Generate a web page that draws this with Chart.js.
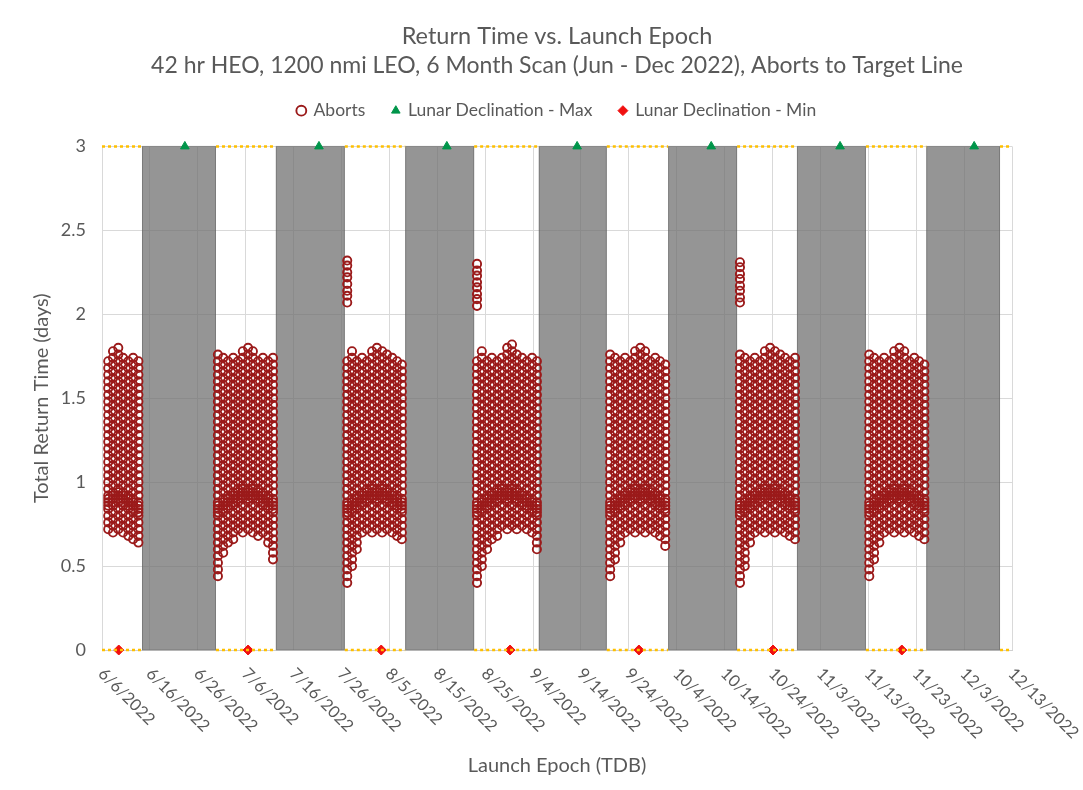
<!DOCTYPE html>
<html>
<head>
<meta charset="utf-8">
<title>Return Time vs. Launch Epoch</title>
<script src="https://cdn.jsdelivr.net/npm/chart.js@4.4.1/dist/chart.umd.min.js"></script>
<style>
  html, body { margin: 0; padding: 0; background: #fff; }
</style>
</head>
<body>
<canvas id="returnChart" width="1083" height="790"></canvas>
<script>
// x values are launch epochs in days after 6/6/2022 (axis runs 6/6/2022 - 12/13/2022)
const tickLabels = ["6/6/2022", "6/16/2022", "6/26/2022", "7/6/2022", "7/16/2022", "7/26/2022",
  "8/5/2022", "8/15/2022", "8/25/2022", "9/4/2022", "9/14/2022", "9/24/2022", "10/4/2022",
  "10/14/2022", "10/24/2022", "11/3/2022", "11/13/2022", "11/23/2022", "12/3/2022", "12/13/2022"];
const yTickLabels = ["0", "0.5", "1", "1.5", "2", "2.5", "3"];

// grey shaded (no launch) periods
const bandStart = [8.35, 36.3, 63.3, 91.2, 118.2, 145.1, 172.1];
const bandEnd = [23.8, 50.7, 77.7, 105.4, 132.6, 159.5, 187.5];

// lunar declination extremes
const decMaxDays = [17.3, 45.3, 72.0, 99.2, 127.2, 154.1, 182.1];
const decMinDays = [3.5, 30.5, 58.3, 85.2, 112.1, 140.1, 167.0];

// abort cases: one column per launch day
const abortDays = [
  1.3, 2.3, 3.4, 4.4, 5.5, 6.5, 7.6,
  24.2, 25.3, 26.3, 27.4, 28.4, 29.4, 30.5, 31.5, 32.6, 33.6, 34.7, 35.7,
  51.2, 52.2, 53.2, 54.3, 55.3, 56.4, 57.4, 58.5, 59.5, 60.6, 61.6, 62.6,
  78.3, 79.3, 80.4, 81.4, 82.5, 83.5, 84.6, 85.6, 86.6, 87.7, 88.7, 89.8, 90.8,
  106.1, 107.1, 108.2, 109.2, 110.3, 111.3, 112.4, 113.4, 114.5, 115.5, 116.5, 117.6,
  133.2, 134.2, 135.3, 136.3, 137.4, 138.4, 139.5, 140.5, 141.6, 142.6, 143.6, 144.7,
  160.2, 161.2, 162.3, 163.3, 164.4, 165.4, 166.5, 167.5, 168.6, 169.6, 170.6, 171.7
];

// total return times per column, in hundredths of a day
const abortTimes = [
  // Jun
  [72,76,80,84,88,92,96,100,104,108,112,116,120,124,128,132,136,140,144,148,152,156,160,164,168,172,86,90],
  [70,74,78,82,86,90,94,98,102,106,110,114,118,122,126,130,134,138,142,146,150,154,158,162,166,170,174,178,88,92],
  [72,76,80,84,88,92,96,100,104,108,112,116,120,124,128,132,136,140,144,148,152,156,160,164,168,172,176,180,90,94],
  [70,74,78,82,86,90,94,98,102,106,110,114,118,122,126,130,134,138,142,146,150,154,158,162,166,170,174,88,92],
  [68,72,76,80,84,88,92,96,100,104,108,112,116,120,124,128,132,136,140,144,148,152,156,160,164,168,172,86,90],
  [66,70,74,78,82,86,90,94,98,102,106,110,114,118,122,126,130,134,138,142,146,150,154,158,162,166,170,174,84,88],
  [64,68,72,76,80,84,88,92,96,100,104,108,112,116,120,124,128,132,136,140,144,148,152,156,160,164,168,172,82,86],
  // Jun - Jul
  [44,48,52,56,60,64,68,72,76,80,84,88,92,96,100,104,108,112,116,120,124,128,132,136,140,144,148,152,156,160,164,168,172,176,82,86],
  [58,62,66,70,74,78,82,86,90,94,98,102,106,110,114,118,122,126,130,134,138,142,146,150,154,158,162,166,170,174,84,88],
  [64,68,72,76,80,84,88,92,96,100,104,108,112,116,120,124,128,132,136,140,144,148,152,156,160,164,168,172,86,90],
  [66,70,74,78,82,86,90,94,98,102,106,110,114,118,122,126,130,134,138,142,146,150,154,158,162,166,170,174,88,92],
  [72,76,80,84,88,92,96,100,104,108,112,116,120,124,128,132,136,140,144,148,152,156,160,164,168,172,90,94],
  [70,74,78,82,86,90,94,98,102,106,110,114,118,122,126,130,134,138,142,146,150,154,158,162,166,170,174,178,92,96],
  [72,76,80,84,88,92,96,100,104,108,112,116,120,124,128,132,136,140,144,148,152,156,160,164,168,172,176,180,90,94],
  [70,74,78,82,86,90,94,98,102,106,110,114,118,122,126,130,134,138,142,146,150,154,158,162,166,170,174,178,92,96],
  [68,72,76,80,84,88,92,96,100,104,108,112,116,120,124,128,132,136,140,144,148,152,156,160,164,168,172,90,94],
  [70,74,78,82,86,90,94,98,102,106,110,114,118,122,126,130,134,138,142,146,150,154,158,162,166,170,174,88,92],
  [64,68,72,76,80,84,88,92,96,100,104,108,112,116,120,124,128,132,136,140,144,148,152,156,160,164,168,172,86,90],
  [54,58,62,66,70,74,78,82,86,90,94,98,102,106,110,114,118,122,126,130,134,138,142,146,150,154,158,162,166,170,174,84,88],
  // Jul - Aug
  [40,44,48,52,56,60,64,68,72,76,80,84,88,92,96,100,104,108,112,116,120,124,128,132,136,140,144,148,152,156,160,164,168,172,82,86,207,211,214,218,222,225,229,232],
  [50,54,58,62,66,70,74,78,82,86,90,94,98,102,106,110,114,118,122,126,130,134,138,142,146,150,154,158,162,166,170,174,178,84,88],
  [60,64,68,72,76,80,84,88,92,96,100,104,108,112,116,120,124,128,132,136,140,144,148,152,156,160,164,168,172,86,90],
  [70,74,78,82,86,90,94,98,102,106,110,114,118,122,126,130,134,138,142,146,150,154,158,162,166,170,174,88,92],
  [72,76,80,84,88,92,96,100,104,108,112,116,120,124,128,132,136,140,144,148,152,156,160,164,168,172,90,94],
  [70,74,78,82,86,90,94,98,102,106,110,114,118,122,126,130,134,138,142,146,150,154,158,162,166,170,174,178,92,96],
  [72,76,80,84,88,92,96,100,104,108,112,116,120,124,128,132,136,140,144,148,152,156,160,164,168,172,176,180,90,94],
  [70,74,78,82,86,90,94,98,102,106,110,114,118,122,126,130,134,138,142,146,150,154,158,162,166,170,174,178,92,96],
  [72,76,80,84,88,92,96,100,104,108,112,116,120,124,128,132,136,140,144,148,152,156,160,164,168,172,176,90,94],
  [70,74,78,82,86,90,94,98,102,106,110,114,118,122,126,130,134,138,142,146,150,154,158,162,166,170,174,88,92],
  [68,72,76,80,84,88,92,96,100,104,108,112,116,120,124,128,132,136,140,144,148,152,156,160,164,168,172,86,90],
  [66,70,74,78,82,86,90,94,98,102,106,110,114,118,122,126,130,134,138,142,146,150,154,158,162,166,170,84,88],
  // Aug - Sep
  [40,44,48,52,56,60,64,68,72,76,80,84,88,92,96,100,104,108,112,116,120,124,128,132,136,140,144,148,152,156,160,164,168,172,82,86,205,209,212,216,219,223,226,230],
  [50,54,58,62,66,70,74,78,82,86,90,94,98,102,106,110,114,118,122,126,130,134,138,142,146,150,154,158,162,166,170,174,178,84,88],
  [60,64,68,72,76,80,84,88,92,96,100,104,108,112,116,120,124,128,132,136,140,144,148,152,156,160,164,168,172,86,90],
  [66,70,74,78,82,86,90,94,98,102,106,110,114,118,122,126,130,134,138,142,146,150,154,158,162,166,170,174,88,92],
  [68,72,76,80,84,88,92,96,100,104,108,112,116,120,124,128,132,136,140,144,148,152,156,160,164,168,172,90,94],
  [74,78,82,86,90,94,98,102,106,110,114,118,122,126,130,134,138,142,146,150,154,158,162,166,170,174,92,96],
  [72,76,80,84,88,92,96,100,104,108,112,116,120,124,128,132,136,140,144,148,152,156,160,164,168,172,176,180,90,94],
  [74,78,82,86,90,94,98,102,106,110,114,118,122,126,130,134,138,142,146,150,154,158,162,166,170,174,178,182,92,96],
  [72,76,80,84,88,92,96,100,104,108,112,116,120,124,128,132,136,140,144,148,152,156,160,164,168,172,176,90,94],
  [74,78,82,86,90,94,98,102,106,110,114,118,122,126,130,134,138,142,146,150,154,158,162,166,170,174,88,92],
  [72,76,80,84,88,92,96,100,104,108,112,116,120,124,128,132,136,140,144,148,152,156,160,164,168,172,86,90],
  [70,74,78,82,86,90,94,98,102,106,110,114,118,122,126,130,134,138,142,146,150,154,158,162,166,170,174,84,88],
  [60,64,68,72,76,80,84,88,92,96,100,104,108,112,116,120,124,128,132,136,140,144,148,152,156,160,164,168,172,82,86],
  // Sep - Oct
  [44,48,52,56,60,64,68,72,76,80,84,88,92,96,100,104,108,112,116,120,124,128,132,136,140,144,148,152,156,160,164,168,172,176,82,86],
  [54,58,62,66,70,74,78,82,86,90,94,98,102,106,110,114,118,122,126,130,134,138,142,146,150,154,158,162,166,170,174,84,88],
  [64,68,72,76,80,84,88,92,96,100,104,108,112,116,120,124,128,132,136,140,144,148,152,156,160,164,168,172,86,90],
  [70,74,78,82,86,90,94,98,102,106,110,114,118,122,126,130,134,138,142,146,150,154,158,162,166,170,174,88,92],
  [72,76,80,84,88,92,96,100,104,108,112,116,120,124,128,132,136,140,144,148,152,156,160,164,168,172,90,94],
  [70,74,78,82,86,90,94,98,102,106,110,114,118,122,126,130,134,138,142,146,150,154,158,162,166,170,174,178,92,96],
  [72,76,80,84,88,92,96,100,104,108,112,116,120,124,128,132,136,140,144,148,152,156,160,164,168,172,176,180,90,94],
  [70,74,78,82,86,90,94,98,102,106,110,114,118,122,126,130,134,138,142,146,150,154,158,162,166,170,174,178,92,96],
  [72,76,80,84,88,92,96,100,104,108,112,116,120,124,128,132,136,140,144,148,152,156,160,164,168,172,90,94],
  [70,74,78,82,86,90,94,98,102,106,110,114,118,122,126,130,134,138,142,146,150,154,158,162,166,170,174,88,92],
  [68,72,76,80,84,88,92,96,100,104,108,112,116,120,124,128,132,136,140,144,148,152,156,160,164,168,172,86,90],
  [62,66,70,74,78,82,86,90,94,98,102,106,110,114,118,122,126,130,134,138,142,146,150,154,158,162,166,170,84,88],
  // Oct - Oct
  [40,44,48,52,56,60,64,68,72,76,80,84,88,92,96,100,104,108,112,116,120,124,128,132,136,140,144,148,152,156,160,164,168,172,176,82,86,207,210,214,217,221,224,228,231],
  [50,54,58,62,66,70,74,78,82,86,90,94,98,102,106,110,114,118,122,126,130,134,138,142,146,150,154,158,162,166,170,174,84,88],
  [64,68,72,76,80,84,88,92,96,100,104,108,112,116,120,124,128,132,136,140,144,148,152,156,160,164,168,172,86,90],
  [70,74,78,82,86,90,94,98,102,106,110,114,118,122,126,130,134,138,142,146,150,154,158,162,166,170,174,88,92],
  [72,76,80,84,88,92,96,100,104,108,112,116,120,124,128,132,136,140,144,148,152,156,160,164,168,172,90,94],
  [70,74,78,82,86,90,94,98,102,106,110,114,118,122,126,130,134,138,142,146,150,154,158,162,166,170,174,178,92,96],
  [72,76,80,84,88,92,96,100,104,108,112,116,120,124,128,132,136,140,144,148,152,156,160,164,168,172,176,180,90,94],
  [70,74,78,82,86,90,94,98,102,106,110,114,118,122,126,130,134,138,142,146,150,154,158,162,166,170,174,178,92,96],
  [72,76,80,84,88,92,96,100,104,108,112,116,120,124,128,132,136,140,144,148,152,156,160,164,168,172,176,90,94],
  [70,74,78,82,86,90,94,98,102,106,110,114,118,122,126,130,134,138,142,146,150,154,158,162,166,170,174,88,92],
  [68,72,76,80,84,88,92,96,100,104,108,112,116,120,124,128,132,136,140,144,148,152,156,160,164,168,172,86,90],
  [66,70,74,78,82,86,90,94,98,102,106,110,114,118,122,126,130,134,138,142,146,150,154,158,162,166,170,174,84,88],
  // Nov
  [44,48,52,56,60,64,68,72,76,80,84,88,92,96,100,104,108,112,116,120,124,128,132,136,140,144,148,152,156,160,164,168,172,176,82,86],
  [54,58,62,66,70,74,78,82,86,90,94,98,102,106,110,114,118,122,126,130,134,138,142,146,150,154,158,162,166,170,174,84,88],
  [64,68,72,76,80,84,88,92,96,100,104,108,112,116,120,124,128,132,136,140,144,148,152,156,160,164,168,172,86,90],
  [70,74,78,82,86,90,94,98,102,106,110,114,118,122,126,130,134,138,142,146,150,154,158,162,166,170,174,88,92],
  [72,76,80,84,88,92,96,100,104,108,112,116,120,124,128,132,136,140,144,148,152,156,160,164,168,172,90,94],
  [70,74,78,82,86,90,94,98,102,106,110,114,118,122,126,130,134,138,142,146,150,154,158,162,166,170,174,178,92,96],
  [72,76,80,84,88,92,96,100,104,108,112,116,120,124,128,132,136,140,144,148,152,156,160,164,168,172,176,180,90,94],
  [70,74,78,82,86,90,94,98,102,106,110,114,118,122,126,130,134,138,142,146,150,154,158,162,166,170,174,178,92,96],
  [72,76,80,84,88,92,96,100,104,108,112,116,120,124,128,132,136,140,144,148,152,156,160,164,168,172,90,94],
  [70,74,78,82,86,90,94,98,102,106,110,114,118,122,126,130,134,138,142,146,150,154,158,162,166,170,174,88,92],
  [68,72,76,80,84,88,92,96,100,104,108,112,116,120,124,128,132,136,140,144,148,152,156,160,164,168,172,86,90],
  [66,70,74,78,82,86,90,94,98,102,106,110,114,118,122,126,130,134,138,142,146,150,154,158,162,166,170,84,88]
];

const xMax = 190;
const yMax = 3;
const textGrey = '#595959';
const fontName = 'Lato';

// build point lists for the library
const abortPoints = [];
abortDays.forEach((d, i) => {
  abortTimes[i].forEach(v => abortPoints.push({ x: d, y: v / 100 }));
});
const maxPoints = decMaxDays.map(d => ({ x: d, y: yMax }));
const minPoints = decMinDays.map(d => ({ x: d, y: 0 }));

// dotted gold line over the open windows (between grey bands)
function windowLine(yVal) {
  const pts = [];
  let from = 0;
  for (let i = 0; i < bandStart.length; i++) {
    pts.push({ x: from, y: yVal }, { x: bandStart[i], y: yVal }, { x: bandStart[i], y: null });
    from = bandEnd[i];
  }
  pts.push({ x: from, y: yVal }, { x: xMax, y: yVal });
  return pts;
}

// empty layout box so the plot starts a bit below the legend
const legendGap = {
  id: 'legendGap',
  beforeInit(chart) {
    if (!Chart.layouts) return;
    Chart.layouts.addBox(chart, {
      id: 'legendGapBox',
      position: 'top',
      weight: 500,
      fullSize: false,
      options: {},
      top: 0, left: 0, right: 0, bottom: 0, width: 0, height: 0,
      update(maxWidth) { this.width = maxWidth; this.height = 17; },
      isHorizontal() { return true; },
      draw() {}
    });
  }
};

// grey bands behind the points
const bandPlugin = {
  id: 'greyBands',
  beforeDatasetsDraw(chart) {
    const { ctx, scales: { x, y } } = chart;
    const top = y.getPixelForValue(yMax);
    const bottom = y.getPixelForValue(0);
    ctx.save();
    ctx.fillStyle = 'rgba(108,108,108,0.72)';
    ctx.strokeStyle = 'rgba(90,90,90,0.45)';
    ctx.lineWidth = 1;
    for (let i = 0; i < bandStart.length; i++) {
      const x1 = x.getPixelForValue(bandStart[i]);
      const x2 = x.getPixelForValue(bandEnd[i]);
      ctx.fillRect(x1, top, x2 - x1, bottom - top);
      ctx.strokeRect(x1 + 0.5, top, x2 - x1 - 1, bottom - top);
    }
    ctx.restore();
  }
};

// date labels turned 45 degrees, reading downwards
const dateLabelPlugin = {
  id: 'dateLabels',
  afterDraw(chart) {
    const { ctx, scales: { x }, chartArea } = chart;
    ctx.save();
    ctx.font = '16.5px ' + fontName;
    ctx.fillStyle = textGrey;
    ctx.textAlign = 'left';
    ctx.textBaseline = 'middle';
    x.ticks.forEach((t, i) => {
      const px = x.getPixelForValue(t.value);
      ctx.save();
      ctx.translate(px - 1, chartArea.bottom + 21);
      ctx.rotate(Math.PI / 4);
      ctx.fillText(tickLabels[i], 0, 0);
      ctx.restore();
    });
    ctx.restore();
  }
};

new Chart(document.getElementById('returnChart').getContext('2d'), {
  type: 'scatter',
  data: {
    datasets: [
      {
        label: 'Aborts',
        data: abortPoints,
        order: 1,
        pointStyle: 'circle',
        pointRadius: 4.1,
        borderWidth: 1.9,
        borderColor: '#9b1a1a',
        backgroundColor: 'rgba(255,255,255,0)'
      },
      {
        label: 'Lunar Declination - Max',
        data: maxPoints,
        order: 2,
        clip: false,
        pointStyle: 'triangle',
        pointRadius: 5,
        borderWidth: 1,
        borderColor: '#00954a',
        backgroundColor: '#00954a'
      },
      {
        label: 'Lunar Declination - Min',
        data: minPoints,
        order: 3,
        clip: false,
        pointStyle: 'rectRot',
        pointRadius: 5,
        borderWidth: 1,
        borderColor: '#f01010',
        backgroundColor: '#f01010'
      },
      {
        label: 'window top',
        data: windowLine(yMax),
        order: 0,
        clip: false,
        showLine: true,
        pointRadius: 0,
        borderColor: '#ffc000',
        borderWidth: 2.5,
        borderDash: [3, 3],
        spanGaps: false
      },
      {
        label: 'window bottom',
        data: windowLine(0),
        order: 0,
        clip: false,
        showLine: true,
        pointRadius: 0,
        borderColor: '#ffc000',
        borderWidth: 2.5,
        borderDash: [3, 3],
        spanGaps: false
      }
    ]
  },
  options: {
    responsive: false,
    animation: false,
    events: [],
    layout: { padding: { left: 0, right: 71, top: 0, bottom: 0 } },
    plugins: {
      title: {
        display: true,
        fullSize: false,
        text: 'Return Time vs. Launch Epoch',
        color: textGrey,
        font: { family: fontName, size: 23.5, weight: 'normal', lineHeight: 0.6 },
        padding: { top: 29, bottom: 0 }
      },
      subtitle: {
        display: true,
        fullSize: false,
        text: '42 hr HEO, 1200 nmi LEO, 6 Month Scan (Jun - Dec 2022), Aborts to Target Line',
        color: textGrey,
        font: { family: fontName, size: 23, weight: 'normal', lineHeight: 0.6 },
        padding: { top: 16, bottom: 2 }
      },
      legend: {
        position: 'top',
        fullSize: false,
        labels: {
          usePointStyle: true,
          boxWidth: 7,
          boxHeight: 7,
          padding: 27,
          color: textGrey,
          font: { family: fontName, size: 17.5 },
          filter: item => item.datasetIndex < 3
        }
      },
      tooltip: { enabled: false }
    },
    scales: {
      x: {
        type: 'linear',
        min: 0,
        max: xMax,
        afterFit: s => { s.height = 140; },
        ticks: { stepSize: 10, display: false },
        grid: { color: '#d9d9d9', drawTicks: false },
        border: { color: '#d0d0d0' },
        title: {
          display: true,
          text: 'Launch Epoch (TDB)',
          color: textGrey,
          font: { family: fontName, size: 20, lineHeight: 1.2 },
          padding: { top: 0, bottom: 12 }
        }
      },
      y: {
        min: 0,
        max: yMax,
        afterFit: s => { s.width = 102; },
        ticks: {
          stepSize: 0.5,
          padding: 16,
          color: textGrey,
          font: { family: fontName, size: 18 },
          callback: (v, i) => yTickLabels[i]
        },
        grid: { color: '#d9d9d9', drawTicks: false },
        border: { color: '#d9d9d9' },
        title: {
          display: true,
          text: 'Total Return Time (days)',
          color: textGrey,
          font: { family: fontName, size: 20, lineHeight: 1.2 },
          padding: { top: 30, bottom: 0 }
        }
      }
    }
  },
  plugins: [legendGap, bandPlugin, dateLabelPlugin]
});
</script>
</body>
</html>
